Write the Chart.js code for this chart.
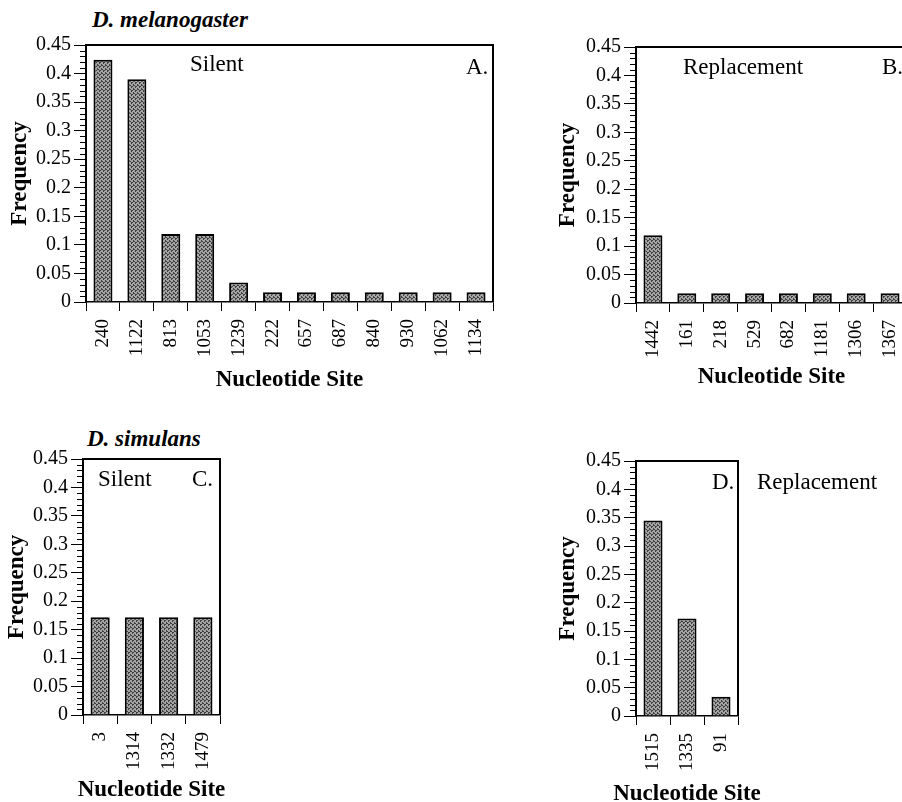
<!DOCTYPE html>
<html>
<head>
<meta charset="utf-8">
<script src="https://cdn.jsdelivr.net/npm/chart.js@4.4.1/dist/chart.umd.min.js"></script>
<style>
  html, body { margin: 0; padding: 0; background: #fff; width: 902px; height: 802px; overflow: hidden; position: relative; }
  canvas { position: absolute; }
  .txt { position: absolute; font-family: 'Liberation Serif', serif; font-size: 23px; line-height: 1; color: #000; white-space: nowrap; }
  .sp { font-weight: bold; font-style: italic; }
</style>
</head>
<body>
<div class="txt sp" style="left:92px; top:8px;">D. melanogaster</div>
<div class="txt sp" style="left:87px; top:427px;">D. simulans</div>

<canvas id="chartA" width="507" height="369" style="left:6px; top:25px;"></canvas>
<canvas id="chartB" width="373" height="364" style="left:554px; top:27px;"></canvas>
<canvas id="chartC" width="257" height="365" style="left:3px; top:439px;"></canvas>
<canvas id="chartD" width="244" height="367" style="left:554px; top:441px;"></canvas>

<div class="txt" style="left:190px; top:52px;">Silent</div>
<div class="txt" style="left:466px; top:55px;">A.</div>
<div class="txt" style="left:683px; top:55px;">Replacement</div>
<div class="txt" style="left:882px; top:55px;">B.</div>
<div class="txt" style="left:98px; top:467px;">Silent</div>
<div class="txt" style="left:192px; top:467px;">C.</div>
<div class="txt" style="left:712px; top:470px;">D.</div>
<div class="txt" style="left:757px; top:470px;">Replacement</div>

<script>
// Paneel A: D. melanogaster, stille substituties
const sitesMelSilent = ['240', '1122', '813', '1053', '1239', '222', '657', '687', '840', '930', '1062', '1134'];
const freqMelSilent = [0.424, 0.390, 0.119, 0.119, 0.034, 0.017, 0.017, 0.017, 0.017, 0.017, 0.017, 0.017];

// Paneel B: D. melanogaster, vervangingen
const sitesMelReplacement = ['1442', '161', '218', '529', '682', '1181', '1306', '1367'];
const freqMelReplacement = [0.119, 0.017, 0.017, 0.017, 0.017, 0.017, 0.017, 0.017];

// Paneel C: D. simulans, stille substituties
const sitesSimSilent = ['3', '1314', '1332', '1479'];
const freqSimSilent = [0.172, 0.172, 0.172, 0.172];

// Paneel D: D. simulans, vervangingen
const sitesSimReplacement = ['1515', '1335', '91'];
const freqSimReplacement = [0.345, 0.172, 0.034];

// Labels op de y-as
const freqTickLabels = ['0', '0.05', '0.1', '0.15', '0.2', '0.25', '0.3', '0.35', '0.4', '0.45'];

const serif = "'Liberation Serif', serif";

// Gespikkeld grijs patroon voor de staven
function makeStipple() {
    const c = document.createElement('canvas');
    c.width = 4; c.height = 4;
    const g = c.getContext('2d');
    g.fillStyle = '#a4a4a4';
    g.fillRect(0, 0, 4, 4);
    g.fillStyle = '#404040';
    [[0, 0], [2, 1], [1, 2], [3, 3], [3, 0], [1, 1]].forEach(p => g.fillRect(p[0], p[1], 1, 1));
    return g.createPattern(c, 'repeat');
}
const stipple = makeStipple();

// Kader, kleine streepjes op de y-as en de titel van de x-as
const framePlugin = {
    id: 'frame',
    afterDraw(chart, args, opts) {
        const { ctx, chartArea: a } = chart;
        const y = chart.scales.y;
        const x = chart.scales.x;
        ctx.save();
        ctx.strokeStyle = '#000';
        ctx.lineWidth = 2;
        ctx.beginPath();
        ctx.moveTo(a.left, a.top);
        ctx.lineTo(a.right, a.top);
        ctx.lineTo(a.right, a.bottom);
        ctx.stroke();

        ctx.lineWidth = 1;
        ctx.beginPath();
        for (let i = 0; i <= 45; i++) {
            if (i % 5 === 0) continue;
            const py = Math.round(y.getPixelForValue(i / 100)) + 0.5;
            ctx.moveTo(a.left - 6, py);
            ctx.lineTo(a.left, py);
        }
        ctx.stroke();

        ctx.font = 'bold 23px ' + serif;
        ctx.fillStyle = '#000';
        ctx.textAlign = 'center';
        ctx.textBaseline = 'middle';
        ctx.fillText(opts.xTitle, (a.left + a.right) / 2, x.bottom - 13.8);
        ctx.restore();
    }
};

function drawPanel(id, labels, values, yWidth, xHeight, padRight) {
    const ctx = document.getElementById(id).getContext('2d');
    return new Chart(ctx, {
        type: 'bar',
        data: {
            labels: labels,
            datasets: [{
                data: values,
                backgroundColor: stipple,
                borderColor: '#000',
                borderWidth: 2,
                barPercentage: 0.56,
                categoryPercentage: 1
            }]
        },
        options: {
            responsive: false,
            animation: false,
            layout: { padding: { top: 20, right: padRight, bottom: 0, left: 0 } },
            plugins: {
                legend: { display: false },
                tooltip: { enabled: false },
                frame: { xTitle: 'Nucleotide Site' }
            },
            scales: {
                x: {
                    grid: { drawOnChartArea: false, tickLength: 9, color: '#000', lineWidth: 1 },
                    border: { color: '#000', width: 1.5 },
                    ticks: {
                        color: '#000',
                        font: { family: serif, size: 19 },
                        minRotation: 90,
                        maxRotation: 90,
                        autoSkip: false,
                        padding: 8
                    },
                    afterFit(s) { s.height = xHeight; }
                },
                y: {
                    min: 0,
                    max: 0.45,
                    ticks: {
                        stepSize: 0.05,
                        color: '#000',
                        font: { family: serif, size: 20 },
                        padding: 3,
                        callback: (v, i) => freqTickLabels[i]
                    },
                    grid: { drawOnChartArea: false, tickLength: 12, color: '#000', lineWidth: 1 },
                    border: { color: '#000', width: 2 },
                    title: {
                        display: true,
                        text: 'Frequency',
                        color: '#000',
                        padding: 0,
                        font: { family: serif, size: 23, weight: 'bold' }
                    },
                    afterFit(s) { s.width = yWidth; }
                }
            }
        },
        plugins: [framePlugin]
    });
}

drawPanel('chartA', sitesMelSilent, freqMelSilent, 80, 92, 20);
drawPanel('chartB', sitesMelReplacement, freqMelReplacement, 82, 88, 20);
drawPanel('chartC', sitesSimSilent, freqSimSilent, 80, 89, 40);
drawPanel('chartD', sitesSimReplacement, freqSimReplacement, 82, 92, 60);
</script>
</body>
</html>
